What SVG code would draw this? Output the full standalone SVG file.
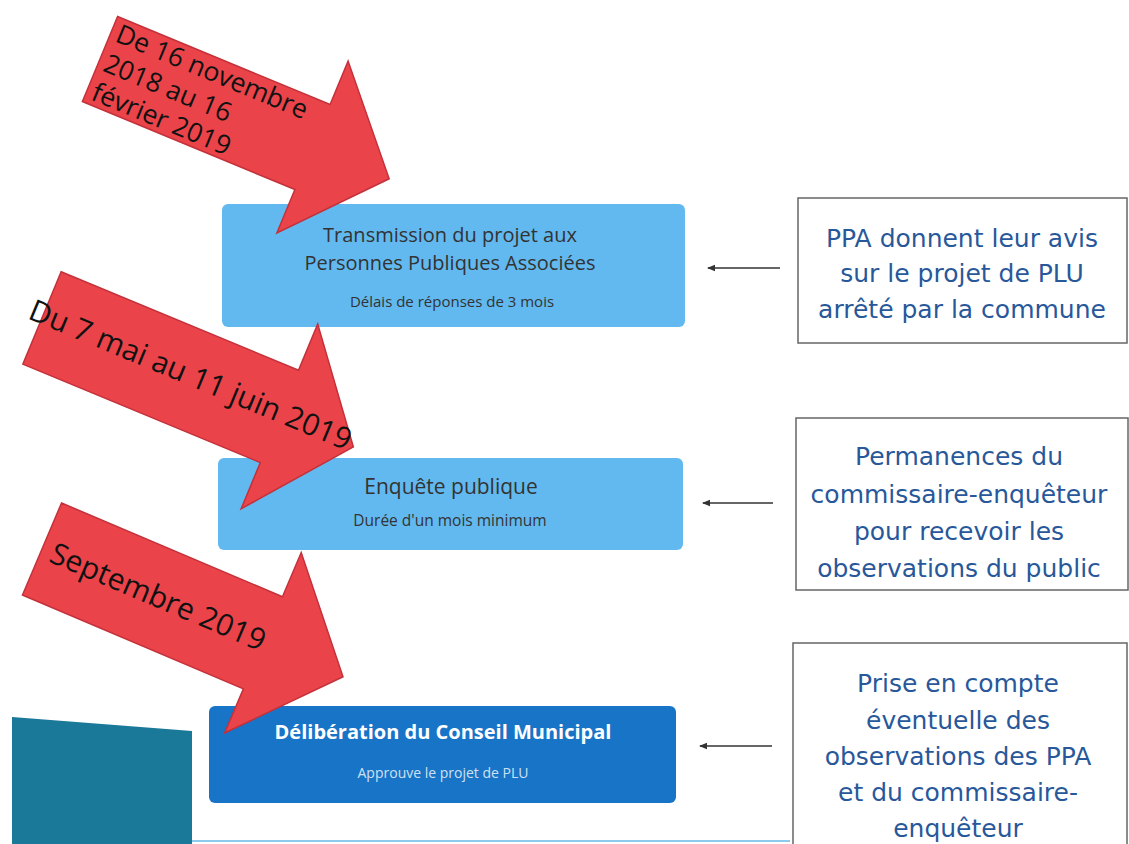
<svg xmlns="http://www.w3.org/2000/svg" width="1129" height="844" viewBox="0 0 1129 844">
<defs>
<marker id="ah" markerWidth="8" markerHeight="8" refX="7" refY="4" orient="auto" markerUnits="userSpaceOnUse">
<path d="M0,0.8 L8,4 L0,7.2 Z" fill="#333"/>
</marker>
<style>
.red{fill:#ea444a;stroke:#c4313a;stroke-width:1.5}
.at{font-family:"Open Sans","Noto Sans",sans-serif;fill:#111}
.lb{fill:#62b9ef}
.bt{font-family:"Open Sans","Noto Sans",sans-serif;fill:#333;text-anchor:middle}
.wt{font-family:"Open Sans","Noto Sans",sans-serif;fill:#ffffff;text-anchor:middle}
.side{fill:#ffffff;stroke:#666;stroke-width:1.5}
.st{font-family:"DejaVu Sans","Noto Sans",sans-serif;font-size:25px;fill:#28589a;text-anchor:middle}
.conn{stroke:#333;stroke-width:1.5;fill:none}
</style>
</defs>
<rect width="1129" height="844" fill="#ffffff"/>

<g id="decor">
<polygon points="12,717 192,731 192,844 12,844" fill="#1a7898"/>
<line x1="192" y1="841" x2="790" y2="841" stroke="#8ccaee" stroke-width="2"/>
</g>

<g id="step1">
<rect x="222" y="204" width="463" height="123" rx="6" class="lb"/>
<text x="450" y="242" class="bt" font-size="20">Transmission du projet aux</text>
<text x="450" y="270" class="bt" font-size="20">Personnes Publiques Associées</text>
<text x="452" y="307" class="bt" font-size="15">Délais de réponses de 3 mois</text>
</g>

<g id="step2">
<rect x="218" y="458" width="465" height="92" rx="6" class="lb"/>
<text x="451" y="494" class="bt" font-size="21">Enquête publique</text>
<text x="450" y="526" class="bt" font-size="15.5">Durée d'un mois minimum</text>
</g>

<g id="step3">
<rect x="209" y="706" width="467" height="97" rx="6" fill="#1874c6"/>
<text x="443" y="739" class="wt" font-size="20" font-weight="bold">Délibération du Conseil Municipal</text>
<text x="443" y="778" class="wt" font-size="14" fill-opacity="0.8">Approuve le projet de PLU</text>
</g>

<g id="note1">
<rect x="798" y="198" width="329" height="145" class="side"/>
<text x="962" y="247" class="st">PPA donnent leur avis</text>
<text x="962" y="282" class="st">sur le projet de PLU</text>
<text x="962" y="318" class="st">arrêté par la commune</text>
</g>

<g id="note2">
<rect x="796" y="418" width="332" height="172" class="side"/>
<text x="959" y="465" class="st">Permanences du</text>
<text x="959" y="503" class="st">commissaire-enquêteur</text>
<text x="959" y="540" class="st">pour recevoir les</text>
<text x="959" y="577" class="st">observations du public</text>
</g>

<g id="note3">
<rect x="793" y="643" width="334" height="220" class="side"/>
<text x="958" y="692" class="st">Prise en compte</text>
<text x="958" y="729" class="st">éventuelle des</text>
<text x="958" y="765" class="st">observations des PPA</text>
<text x="958" y="801" class="st">et du commissaire-</text>
<text x="958" y="837" class="st">enquêteur</text>
</g>

<g id="connectors">
<path d="M780,268 H708" class="conn" marker-end="url(#ah)"/>
<path d="M773,503 H703" class="conn" marker-end="url(#ah)"/>
<path d="M772,746 H700" class="conn" marker-end="url(#ah)"/>
</g>

<g id="date1" transform="translate(100,59) rotate(22.5)">
<polygon points="0,-46 230,-46 230,-93 313,0 230,93 230,46 0,46" class="red"/>
<text class="at" font-size="26.5"><tspan x="6" y="-22">De 16 novembre</tspan><tspan x="6" y="10">2018 au 16</tspan><tspan x="6" y="41">février 2019</tspan></text>
</g>

<g id="date2" transform="translate(42,318) rotate(22.5)">
<polygon points="0,-50 257,-50 257,-100 337,0 257,100 257,50 0,50" class="red"/>
<text x="-14" y="6" class="at" font-size="30">Du 7 mai au 11 juin 2019</text>
</g>

<g id="date3" transform="translate(42,549) rotate(23)">
<polygon points="0,-50 240,-50 240,-98 327,0 240,98 240,50 0,50" class="red"/>
<text x="10" y="9" class="at" font-size="30">Septembre 2019</text>
</g>
</svg>
